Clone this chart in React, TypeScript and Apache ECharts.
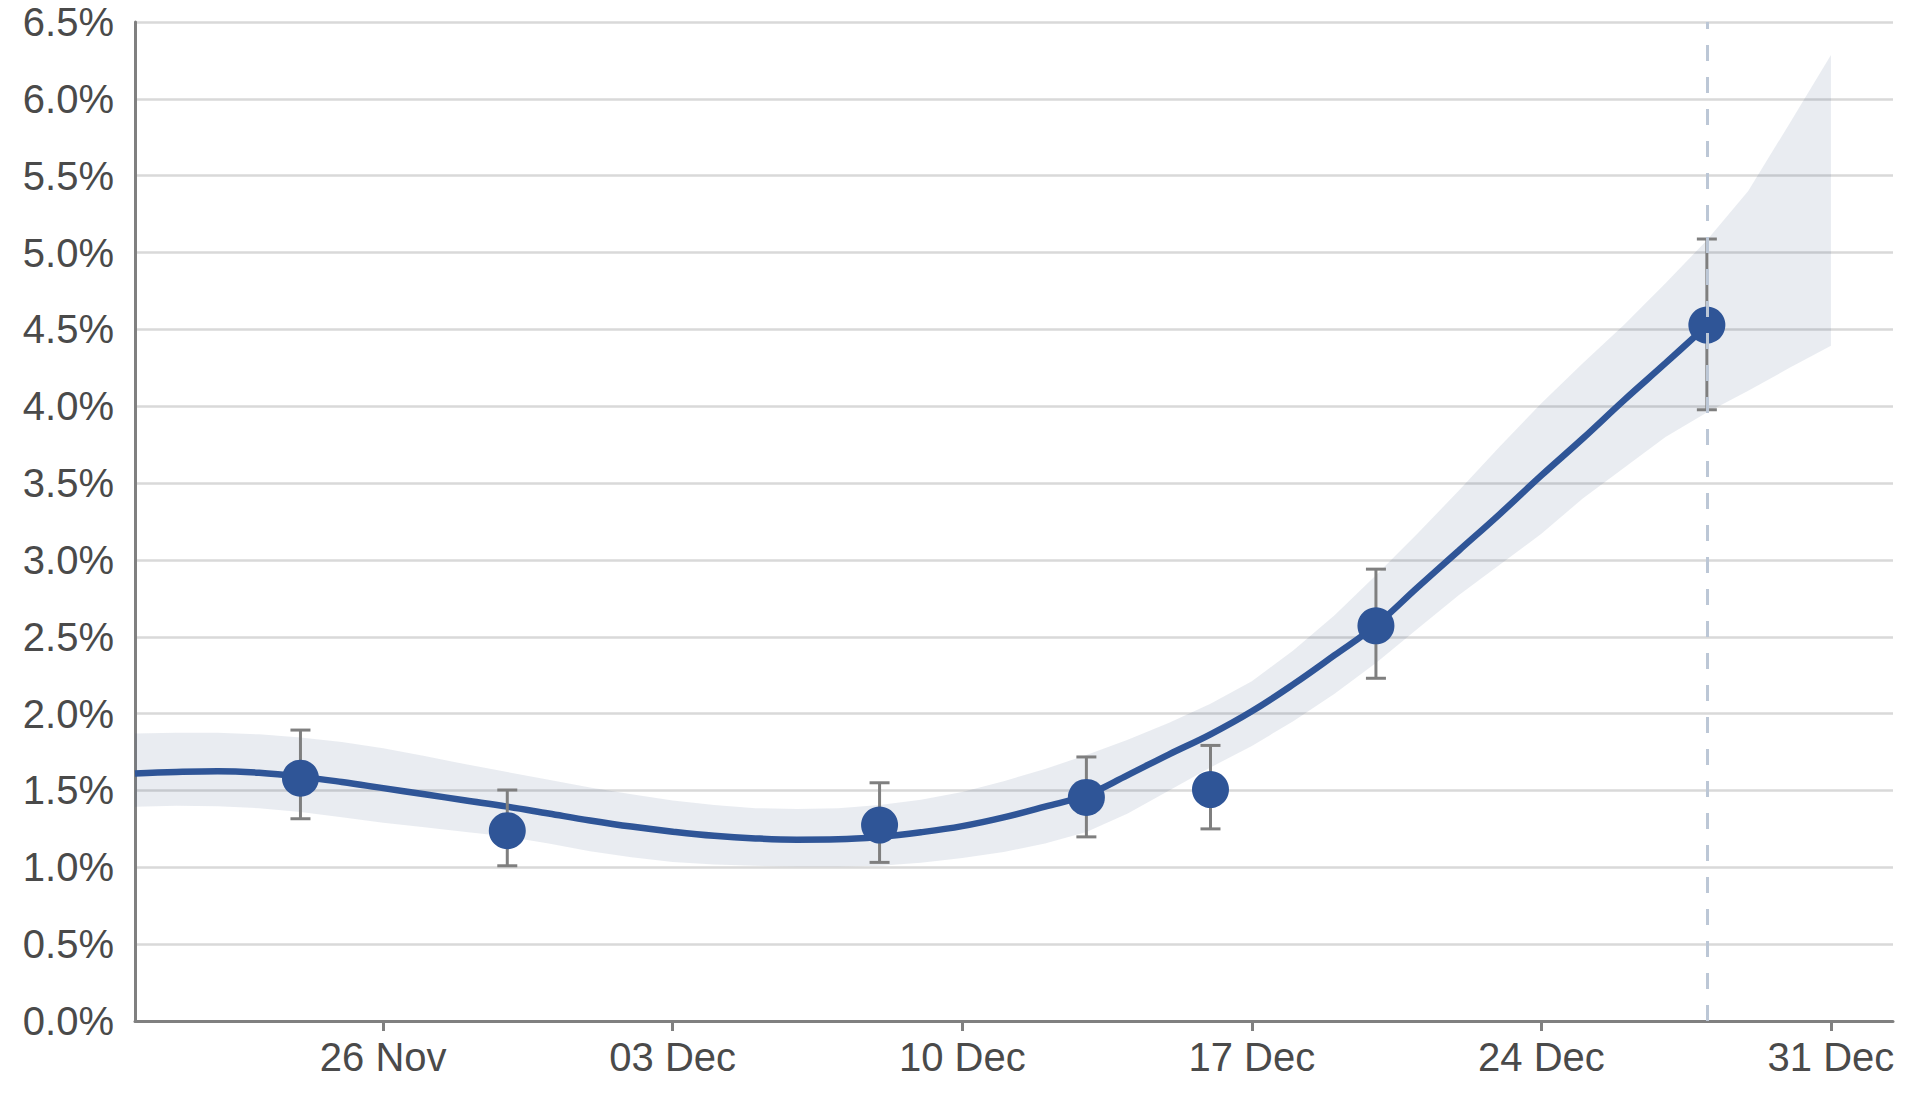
import React, { useEffect, useRef } from 'react';
import * as echarts from 'echarts';

// Dates (day-level)
const curveStartDate = '2021-11-20';
const axisStartDate = '2021-11-20';
const axisEndDate = '2022-01-01'; // axis runs half a day past this
const projectionDate = '2021-12-28';

// Fitted curve, daily from 20 Nov to 28 Dec (%)
const lineValues = [
  1.61, 1.62, 1.625, 1.615, 1.59, 1.555, 1.515, 1.475, 1.435, 1.395,
  1.35, 1.305, 1.265, 1.232, 1.205, 1.188, 1.18, 1.182, 1.198, 1.228,
  1.268, 1.325, 1.395, 1.47, 1.6, 1.735, 1.865, 2.015, 2.19, 2.38,
  2.575, 2.82, 3.06, 3.3, 3.55, 3.79, 4.04, 4.28, 4.525,
];

// Credible band, daily from 20 Nov to 31 Dec (%)
const bandUpper = [
  1.87, 1.875, 1.875, 1.865, 1.845, 1.815, 1.775, 1.725, 1.67, 1.62,
  1.57, 1.52, 1.475, 1.435, 1.405, 1.385, 1.38, 1.385, 1.405, 1.44,
  1.49, 1.56, 1.64, 1.73, 1.83, 1.94, 2.065, 2.21, 2.41, 2.64,
  2.9, 3.17, 3.45, 3.74, 4.02, 4.28, 4.53, 4.8, 5.08, 5.4,
  5.84, 6.285,
];
const bandLower = [
  1.394, 1.4, 1.398, 1.385, 1.36, 1.325, 1.29, 1.26, 1.23, 1.2,
  1.155, 1.105, 1.065, 1.035, 1.018, 1.01, 1.005, 1.005, 1.01, 1.03,
  1.06, 1.1, 1.155, 1.23, 1.35, 1.5, 1.65, 1.79, 1.95, 2.13,
  2.33, 2.55, 2.77, 2.97, 3.17, 3.4, 3.6, 3.8, 3.96, 4.1,
  4.25, 4.394,
];

// Survey estimates with error bars (%)
const pointDates = ['2021-11-24', '2021-11-29', '2021-12-08', '2021-12-13', '2021-12-16', '2021-12-20', '2021-12-28'];
const pointValues = [1.58, 1.238, 1.275, 1.455, 1.506, 2.571, 4.528];
const pointLow = [1.316, 1.01, 1.032, 1.198, 1.25, 2.23, 3.977];
const pointHigh = [1.893, 1.503, 1.55, 1.718, 1.793, 2.94, 5.088];

// X axis ticks
const tickDates = ['2021-11-26', '2021-12-03', '2021-12-10', '2021-12-17', '2021-12-24', '2021-12-31'];
const tickLabels = ['26 Nov', '03 Dec', '10 Dec', '17 Dec', '24 Dec', '31 Dec'];

const FONT = "'Liberation Sans', Arial, sans-serif";
const BLUE = '#2f5597';

function dayOf(s: string): number {
  const [y, m, d] = s.split('-').map(Number);
  const [by, bm, bd] = axisStartDate.split('-').map(Number);
  return (Date.UTC(y, m - 1, d) - Date.UTC(by, bm - 1, bd)) / 86400000;
}

export default function App() {
  const ref = useRef<HTMLDivElement>(null);

  useEffect(() => {
    if (!ref.current) return;
    const chart = echarts.init(ref.current, undefined, { renderer: 'svg' });

    const start = dayOf(curveStartDate);
    const lineData = lineValues.map((v, i) => [start + i, v]);
    const bandData = bandUpper.map((v, i) => [start + i, bandLower[i], v]);
    const pts = pointDates.map((d, i) => [dayOf(d), pointValues[i]]);
    const errs = pointDates.map((d, i) => [dayOf(d), pointLow[i], pointHigh[i]]);
    const tickX = tickDates.map(dayOf);

    const option: any = {
      animation: false,
      grid: { left: 135, right: 23, top: 22, bottom: 82, containLabel: false },
      xAxis: {
        type: 'value',
        min: dayOf(axisStartDate),
        max: dayOf(axisEndDate) + 0.5,
        splitLine: { show: false },
        axisLine: { show: true, onZero: false, lineStyle: { color: '#808080', width: 3 } },
        axisTick: { show: true, length: 10, customValues: tickX, lineStyle: { color: '#808080', width: 3 } },
        axisLabel: {
          customValues: tickX,
          formatter: (v: number) => {
            const idx = tickX.findIndex((t) => Math.abs(t - v) < 1e-6);
            return idx >= 0 ? tickLabels[idx] : '';
          },
          fontSize: 40,
          fontFamily: FONT,
          color: '#4a4a4a',
          margin: 16,
        },
      },
      yAxis: {
        type: 'value',
        min: 0,
        max: 6.5,
        interval: 0.5,
        axisLine: { show: true, lineStyle: { color: '#808080', width: 3 } },
        axisTick: { show: false },
        splitLine: { show: true, lineStyle: { color: '#d9d9d9', width: 2.5 } },
        axisLabel: {
          formatter: (v: number) => v.toFixed(1) + '%',
          fontSize: 40,
          fontFamily: FONT,
          color: '#4a4a4a',
          margin: 21,
        },
      },
      series: [
        {
          type: 'custom',
          data: [0],
          silent: true,
          z: 1,
          renderItem: (params: any, api: any) => {
            if (params.dataIndex !== 0) return null;
            const upper = bandData.map((d) => api.coord([d[0], d[2]]));
            const lower = bandData.map((d) => api.coord([d[0], d[1]])).reverse();
            return {
              type: 'polygon',
              shape: { points: upper.concat(lower) },
              style: { fill: 'rgba(40,70,120,0.1)', stroke: 'none' },
            };
          },
        },
        {
          type: 'line',
          data: lineData,
          symbol: 'none',
          smooth: 0.4,
          silent: true,
          lineStyle: { color: BLUE, width: 6.5 },
          z: 3,
        },
        {
          type: 'custom',
          data: errs,
          encode: { x: 0, y: [1, 2] },
          silent: true,
          z: 4,
          renderItem: (params: any, api: any) => {
            const x = api.value(0);
            const lo = api.coord([x, api.value(1)]);
            const hi = api.coord([x, api.value(2)]);
            const style = { stroke: '#7f7f7f', lineWidth: 3 };
            const cap = 10;
            return {
              type: 'group',
              children: [
                { type: 'line', shape: { x1: lo[0], y1: lo[1], x2: hi[0], y2: hi[1] }, style },
                { type: 'line', shape: { x1: lo[0] - cap, y1: lo[1], x2: lo[0] + cap, y2: lo[1] }, style },
                { type: 'line', shape: { x1: hi[0] - cap, y1: hi[1], x2: hi[0] + cap, y2: hi[1] }, style },
              ],
            };
          },
        },
        {
          type: 'scatter',
          data: pts,
          symbol: 'circle',
          symbolSize: 37,
          silent: true,
          itemStyle: { color: BLUE, opacity: 1 },
          z: 5,
          markLine: {
            silent: true,
            symbol: ['none', 'none'],
            label: { show: false },
            z: 10,
            lineStyle: { color: '#bcc7d6', width: 3, type: [16, 16], opacity: 1 },
            data: [{ xAxis: dayOf(projectionDate) }],
          },
        },
      ],
    };

    chart.setOption(option);
    return () => chart.dispose();
  }, []);

  return (
    <div
      ref={ref}
      style={{ position: 'absolute', left: 0, top: 0, width: 1916, height: 1103, background: '#ffffff' }}
    />
  );
}
